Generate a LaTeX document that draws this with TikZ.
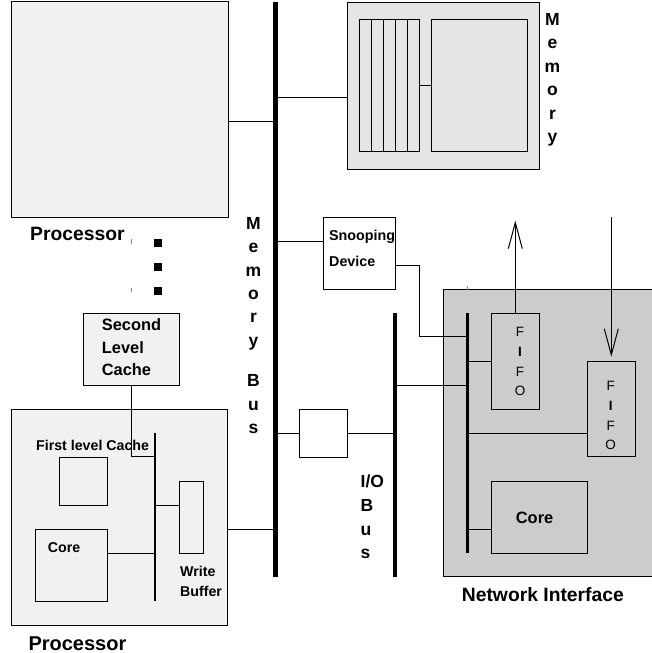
\documentclass[tikz,border=0pt]{standalone}
\usepackage{fontspec}
\setmainfont{Liberation Sans}
\usetikzlibrary{arrows.meta}
\definecolor{procfill}{gray}{0.945}
\definecolor{memfill}{gray}{0.90}
\definecolor{nifill}{gray}{0.80}
\tikzset{
  box/.style={draw, line width=1pt, inner sep=0pt, outer sep=0pt, anchor=north west},
  wire/.style={line width=1pt},
  membus/.style={line width=4.5pt},
  iobus/.style={line width=4pt},
  nibus/.style={line width=2.7pt},
  cpubus/.style={line width=2.3pt},
  tick/.style={line width=1pt, draw=black!45},
  dotsq/.style={fill=black, inner sep=0pt, minimum size=8pt},
  lbl/.style={inner sep=0pt, anchor=base west, font=\bfseries\fontsize{14.2}{17}\selectfont},
  midlbl/.style={inner sep=0pt, anchor=base west, font=\bfseries\fontsize{16.4}{19}\selectfont},
  biglbl/.style={inner sep=0pt, anchor=base west, font=\bfseries\fontsize{19.3}{22}\selectfont},
  vlet/.style={inner sep=0pt, anchor=base, font=\bfseries\fontsize{17.5}{20}\selectfont},
  vletw/.style={inner sep=0pt, anchor=base west, font=\bfseries\fontsize{17.5}{20}\selectfont},
  fifotxt/.style={inner sep=0pt, anchor=base, font=\fontsize{13.5}{16}\selectfont},
  upbarb/.style={-{Straight Barb[length=26pt,width=14pt]}}
}
\begin{document}
\begin{tikzpicture}[x=1pt,y=-1pt]
\clip (0,0) rectangle (652,653);
\fill[white] (0,0) rectangle (652,653);

% ---- bus end points
\coordinate (mbTop) at (275.5,2);
\coordinate (mbBot) at (275.5,577);
\coordinate (ioTop) at (395.3,313.3);
\coordinate (ioBot) at (395.3,576.7);
\coordinate (niTop) at (467.3,313.3);
\coordinate (niBot) at (467.3,553.3);
\coordinate (pbTop) at (155,433.3);
\coordinate (pbBot) at (155,601);

% ---- upper processor
\node[box, fill=procfill, minimum width=216.7pt, minimum height=216pt] (procA) at (11.3,1) {};
\node[biglbl] (procAlbl) at (30,240.7) {Processor};
\draw[tick] (131.7,239) -- (131.7,243.5);
\draw[tick] (131.7,287.5) -- (131.7,292);
\node[dotsq] (dotA) at (157.5,243) {};
\node[dotsq] (dotB) at (157.5,267) {};
\node[dotsq] (dotC) at (157.5,291) {};

% ---- memory
\node[box, fill=memfill, minimum width=192pt, minimum height=167pt] (mem) at (347,2) {};
\node[box, minimum width=60pt, minimum height=131.7pt] (bank) at (359.5,19.3) {};
\foreach \k in {1,...,4}
  \draw[wire] ([xshift=12*\k pt]bank.north west) -- ([xshift=12*\k pt]bank.south west);
\node[box, minimum width=96pt, minimum height=131.7pt] (ctrl) at (431.3,19.3) {};
\draw[wire] (bank.east) -- (ctrl.west);
\foreach \ch [count=\i from 0] in {M,e,m,o,r,y}
  \node[vlet] (memlet\i) at (552.5,25+23.5*\i) {\ch};

% ---- snooping device
\node[box, minimum width=72.4pt, minimum height=72pt] (snoop) at (323.3,217.3) {};
\node[lbl, font=\bfseries\fontsize{14.3}{17}\selectfont] (snoopA) at (329,240.7) {Snooping};
\node[lbl, font=\bfseries\fontsize{14.3}{17}\selectfont] (snoopB) at (329,266.7) {Device};

% ---- bridge between the buses
\node[box, minimum width=48.4pt, minimum height=48pt] (bridge) at (299.3,409.3) {};

% ---- network interface
\node[box, fill=nifill, minimum width=230pt, minimum height=287.4pt] (ni) at (443.3,289.3) {};
\draw[tick] (467.7,286) -- (467.7,290);
\node[biglbl] (nilbl) at (461.7,601.7) {Network Interface};
\node[box, minimum width=48pt, minimum height=96pt] (fifoA) at (491.3,313.3) {};
\node[box, minimum width=48pt, minimum height=95.4pt] (fifoB) at (587.3,361.3) {};
\node[box, minimum width=96pt, minimum height=72pt] (nicore) at (491.3,481.3) {};
\node[midlbl] (nicorelbl) at (515.7,523.3) {Core};
\foreach \ch/\yy/\wt in {F/336.7/, I/356.7/\bfseries, F/376/, O/395.5/}
  \node[fifotxt] at (520,\yy) {\wt\ch};
\foreach \ch/\yy/\wt in {F/390.7/, I/410/\bfseries, F/430/, O/449/}
  \node[fifotxt] at (610.7,\yy) {\wt\ch};
\coordinate (outEnd) at (515.3,220.7);
\coordinate (inStart) at (611.3,217.3);

% ---- lower processor
\node[box, fill=procfill, minimum width=216.4pt, minimum height=216pt] (procB) at (11.3,409) {};
\node[biglbl, font=\bfseries\fontsize{20}{23}\selectfont] (procBlbl) at (28.3,650) {Processor};
\node[box, fill=procfill, minimum width=96pt, minimum height=72.4pt] (l2) at (83.3,313.3) {};
\node[midlbl] (l2a) at (101.7,330.7) {Second};
\node[midlbl] (l2b) at (101.7,353) {Level};
\node[midlbl] (l2c) at (101.7,375.2) {Cache};
\node[box, minimum width=48pt, minimum height=47.7pt] (l1) at (59.3,457.3) {};
\node[lbl] (l1lbl) at (36,450.7) {First level Cache};
\node[box, minimum width=72pt, minimum height=71.7pt] (core) at (35.3,529.3) {};
\node[lbl] (corelbl) at (47.7,552.7) {Core};
\node[box, minimum width=24pt, minimum height=71.6pt] (wbuf) at (179.3,481.7) {};
\node[lbl] (wbufa) at (180,576.7) {Write};
\node[lbl] (wbufb) at (180,596.7) {Buffer};

% ---- connectors
\draw[wire] (procA.east |- 0,121.5) -- (mbTop |- 0,121.5);
\draw[wire] (mem.west |- 0,97.3) -- (mbTop |- 0,97.3);
\draw[wire] (snoop.west |- 0,241.7) -- (mbTop |- 0,241.7);
\coordinate (snoopBend) at (419.3,336.7);
\draw[wire] (snoop.east |- 0,265.3) -| (snoopBend) -- (niTop |- snoopBend);
\draw[wire] (mbTop |- bridge.west) -- (bridge.west);
\draw[wire] (bridge.east) -- (ioTop |- bridge.east);
\draw[wire] (ioTop |- 0,385) -- (niTop |- 0,385);
\draw[wire] (niTop |- fifoA.west) -- (fifoA.west);
\draw[wire] (niTop |- 0,433.3) -- (fifoB.west |- 0,433.3);
\draw[wire] (niTop |- 0,529.3) -- (nicore.west |- 0,529.3);
\draw[wire, upbarb] (fifoA.north) -- (outEnd);
\draw[wire, upbarb] (inStart) -- ([yshift=4.6pt]fifoB.north);
\draw[wire] (procB.east |- 0,529) -- (mbTop |- 0,529);
\draw[wire] (l2.south) |- (pbTop |- 0,456.7);
\draw[wire] (core.east |- 0,553.3) -- (pbTop |- 0,553.3);
\draw[wire] (pbTop |- 0,505.7) -- (wbuf.west |- 0,505.7);

% ---- buses
\draw[membus] (mbTop) -- (mbBot);
\draw[iobus] (ioTop) -- (ioBot);
\draw[nibus] (niTop) -- (niBot);
\draw[cpubus] (pbTop) -- (pbBot);

% ---- bus names
\foreach \ch/\yy [count=\i] in {M/229.3, e/252.7, m/276, o/299.3, r/322.7, y/346, B/386.7, u/410, s/433.3}
  \node[vlet] (mbus\i) at (253.5,\yy) {\ch};
\node[vletw] (iobus1) at (360.5,487.3) {I/O};
\node[vletw] (iobus2) at (360.5,511.7) {B};
\node[vletw] (iobus3) at (360.5,535) {u};
\node[vletw] (iobus4) at (360.5,558.3) {s};
\end{tikzpicture}
\end{document}
